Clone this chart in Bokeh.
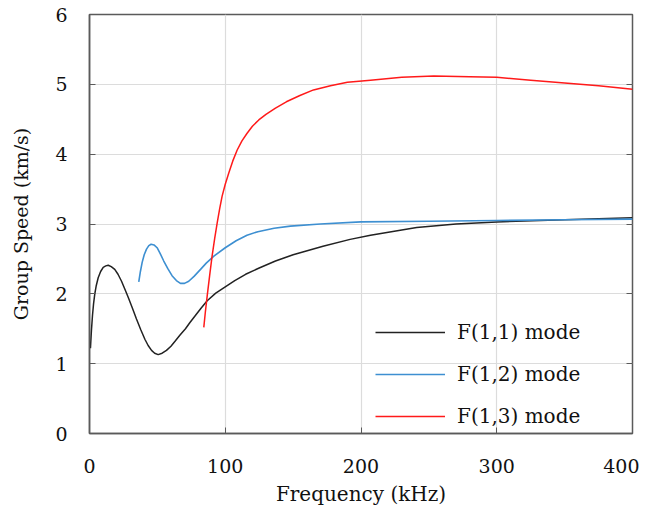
from bokeh.plotting import figure
from bokeh.models import (LinearAxis, Legend, LegendItem, FixedTicker, Range1d,
                          CustomJSTickFormatter)
from bokeh.embed import file_html
from bokeh.resources import INLINE

# ---- data ----
f11_freq = [0.7, 1.4, 2.2, 3.0, 3.9, 5.0, 6.4, 8.2, 10.1, 12.0, 13.8, 16.0, 18.6, 21.0, 23.6,
            26.0, 28.5, 31.5, 34.6, 37.7, 40.8, 43.2, 45.7, 48.0, 50.6, 53.5, 56.7, 60.0,
            63.0, 66.7, 70.7, 74.0, 78.0, 82.0, 86.7, 93.0, 100.0, 107.0, 115.0, 125.0,
            137.0, 150.0, 172.0, 192.0, 207.0, 241.0, 270.0, 300.0, 350.0, 400.0]
f11_speed = [1.22, 1.47, 1.69, 1.86, 2.00, 2.12, 2.23, 2.32, 2.38, 2.40, 2.41, 2.39, 2.35, 2.28,
             2.18, 2.07, 1.95, 1.80, 1.64, 1.49, 1.35, 1.26, 1.19, 1.15, 1.13, 1.15, 1.19, 1.25,
             1.32, 1.41, 1.50, 1.59, 1.69, 1.79, 1.90, 2.01, 2.10, 2.19, 2.28, 2.37,
             2.47, 2.56, 2.68, 2.78, 2.84, 2.95, 3.00, 3.03, 3.06, 3.09]

f12_freq = [36.3, 37.5, 38.8, 40.3, 42.0, 43.7, 45.4, 47.5, 49.8, 52.0, 54.7, 57.7, 60.8,
            64.0, 67.0, 70.0, 73.1, 77.0, 81.8, 86.0, 91.6, 100.0, 108.0, 116.0, 124.0,
            136.0, 148.0, 170.0, 200.0, 250.0, 300.0, 350.0, 400.0]
f12_speed = [2.17, 2.32, 2.45, 2.56, 2.64, 2.69, 2.71, 2.70, 2.66, 2.58, 2.47, 2.36, 2.26,
             2.19, 2.15, 2.15, 2.18, 2.25, 2.35, 2.44, 2.54, 2.66, 2.76, 2.84, 2.89,
             2.94, 2.97, 3.00, 3.03, 3.04, 3.05, 3.06, 3.07]

f13_freq = [84.2, 85.4, 86.7, 88.5, 90.3, 92.2, 94.1, 95.9, 97.7, 100.0, 102.6, 105.5, 108.8,
            112.3, 116.1, 120.0, 124.7, 130.0, 137.0, 145.0, 155.0, 165.0, 177.5, 190.0,
            207.0, 230.0, 253.6, 280.0, 300.0, 325.0, 350.0, 375.0, 400.0]
f13_speed = [1.52, 1.75, 1.97, 2.26, 2.54, 2.79, 3.02, 3.22, 3.40, 3.57, 3.73, 3.90, 4.06,
             4.19, 4.30, 4.40, 4.49, 4.57, 4.66, 4.75, 4.84, 4.92, 4.98, 5.03,
             5.06, 5.10, 5.12, 5.11, 5.10, 5.06, 5.02, 4.98, 4.93]

x_ticks = [0, 100, 200, 300, 400]
y_ticks = [0, 1, 2, 3, 4, 5, 6]
labels = ["F(1,1) mode", "F(1,2) mode", "F(1,3) mode"]
colors = ["#222222", "#3d8fd1", "#ff1a1a"]

FONT = "DejaVu Serif"
AX = "#5a5a5a"

p = figure(width=639, height=508, output_backend="svg", toolbar_location=None,
           x_range=Range1d(0, 400), y_range=Range1d(0, 6),
           min_border_left=89, min_border_right=7, min_border_top=14, min_border_bottom=73)

r1 = p.line(f11_freq, f11_speed, line_color=colors[0], line_width=1.5)
r2 = p.line(f12_freq, f12_speed, line_color=colors[1], line_width=1.6)
r3 = p.line(f13_freq, f13_speed, line_color=colors[2], line_width=1.5)

p.outline_line_color = AX
p.outline_line_width = 1.5
p.background_fill_color = "white"

for ax in (p.xaxis[0], p.yaxis[0]):
    ax.axis_line_color = AX
    ax.axis_line_width = 1.5
    ax.major_tick_line_color = AX
    ax.major_tick_in = 6
    ax.major_tick_out = 0
    ax.minor_tick_line_color = None
    ax.major_label_text_font = FONT
    ax.major_label_text_font_size = "19px"
    ax.major_label_text_color = "#111111"
    ax.axis_label_text_font = FONT
    ax.axis_label_text_font_style = "normal"
    ax.axis_label_text_color = "#111111"

p.xaxis[0].axis_label_text_font_size = "20px"
p.yaxis[0].axis_label_text_font_size = "19px"
p.xaxis[0].ticker = FixedTicker(ticks=x_ticks)
p.yaxis[0].ticker = FixedTicker(ticks=y_ticks)
p.xaxis[0].axis_label = "Frequency (kHz)"
p.yaxis[0].axis_label = "Group Speed (km/s)"
p.xaxis[0].major_label_standoff = 25
p.yaxis[0].major_label_standoff = 22
p.xaxis[0].axis_label_standoff = 6
p.yaxis[0].axis_label_standoff = 20

right = LinearAxis(ticker=FixedTicker(ticks=y_ticks), axis_line_color=None,
                   major_tick_line_color=AX, major_tick_in=6, major_tick_out=0,
                   minor_tick_line_color=None,
                   formatter=CustomJSTickFormatter(code="return ''"),
                   major_label_standoff=0)
p.add_layout(right, "right")

p.xgrid.ticker = FixedTicker(ticks=x_ticks)
p.ygrid.ticker = FixedTicker(ticks=y_ticks)
p.xgrid.grid_line_color = "#dcdcdc"
p.ygrid.grid_line_color = "#dcdcdc"
p.xgrid.grid_line_width = 1.2
p.ygrid.grid_line_width = 1.2

legend = Legend(items=[LegendItem(label=labels[0], renderers=[r1]),
                       LegendItem(label=labels[1], renderers=[r2]),
                       LegendItem(label=labels[2], renderers=[r3])],
                location=(281, 0), glyph_width=70, glyph_height=20, label_height=20,
                label_standoff=12, spacing=18, padding=5, margin=0,
                background_fill_alpha=0, border_line_alpha=0,
                label_text_font=FONT, label_text_font_size="20px", label_text_color="#111111")
p.add_layout(legend, "center")

open("out.html", "w").write(file_html(p, INLINE))
